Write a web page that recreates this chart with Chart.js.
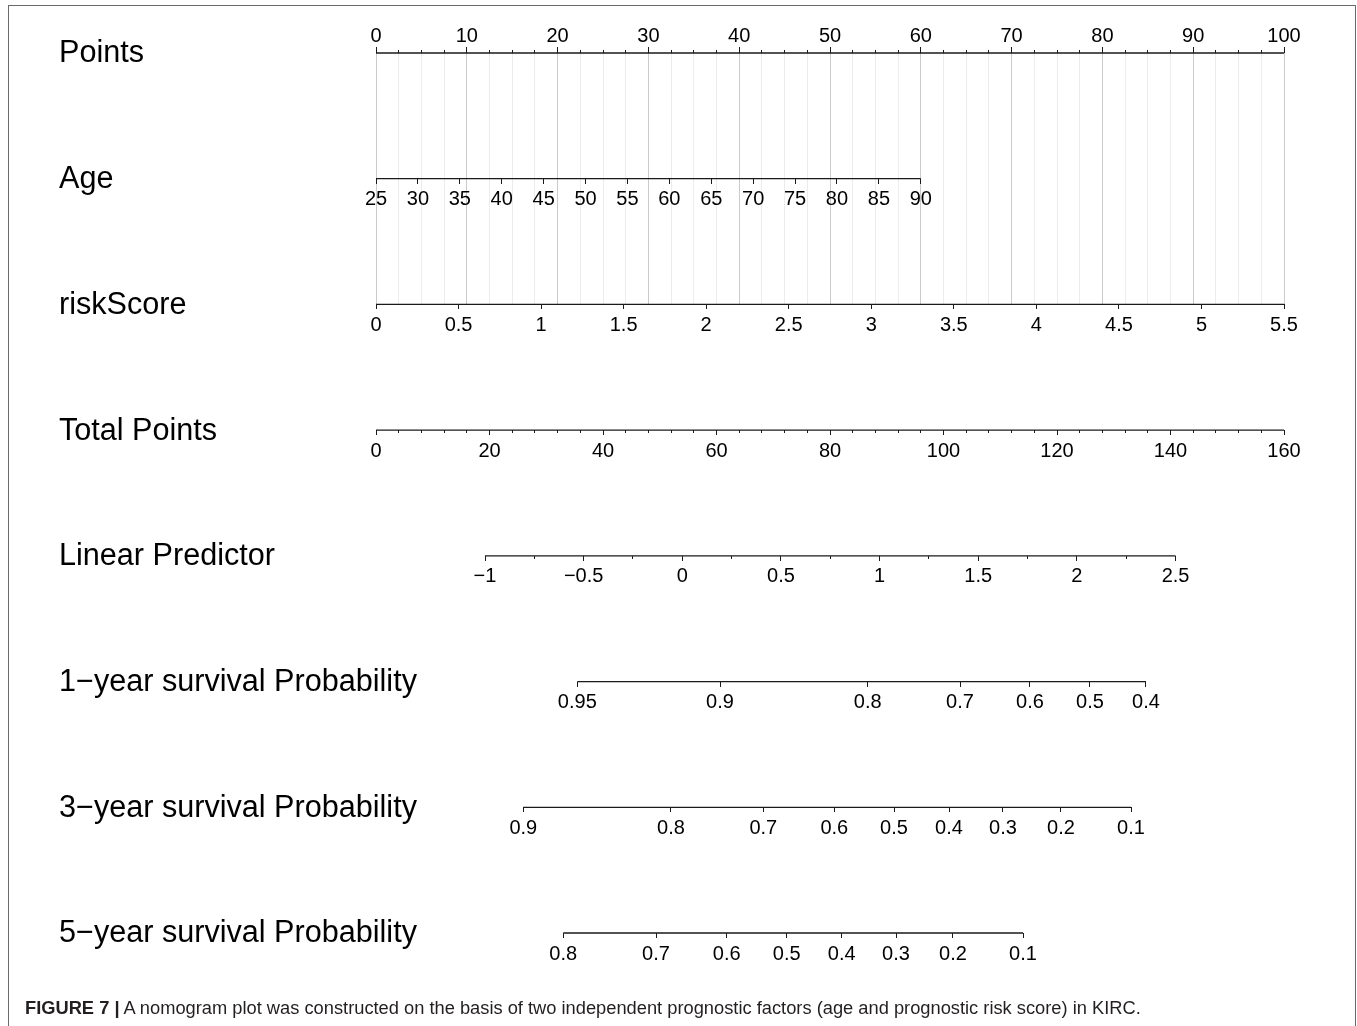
<!DOCTYPE html>
<html>
<head>
<meta charset="utf-8">
<script src="https://cdn.jsdelivr.net/npm/chart.js@4.4.1/dist/chart.umd.min.js"></script>
<style>
  html, body { margin: 0; padding: 0; background: #fff; }
  #wrap { position: relative; width: 1357px; height: 1026px; overflow: hidden; }
  canvas { position: absolute; left: 0; top: 0; }
  #frame { position: absolute; left: 8px; top: 5px; width: 1348px; height: 1040px;
           border: 1px solid #6a6a6a; border-bottom: none; box-sizing: border-box; pointer-events: none; }
  #caption { position: absolute; left: 25px; top: 997px; white-space: nowrap;
             font: 18.3px "Liberation Sans", Arial, sans-serif; color: #231f20; }
  #caption b { font-weight: bold; }
</style>
</head>
<body>
<div id="wrap">
  <canvas id="nomo" width="1357" height="1026"></canvas>
  <div id="frame"></div>
  <div id="caption"><b>FIGURE 7 |</b> A nomogram plot was constructed on the basis of two independent prognostic factors (age and prognostic risk score) in KIRC.</div>
</div>
<script>
// ---- nomogram rows ----
const rowTitles = ['Points', 'Age', 'riskScore', 'Total Points', 'Linear Predictor',
  '1\u2212year survival Probability', '3\u2212year survival Probability', '5\u2212year survival Probability'];

// Points scale (0-100)
const pointsTicks = [0, 10, 20, 30, 40, 50, 60, 70, 80, 90, 100];

// Age: 25 years -> 0 points, 90 years -> 60 points
const ageTicks = [25, 30, 35, 40, 45, 50, 55, 60, 65, 70, 75, 80, 85, 90];
const agePointsAtMax = 60;

// riskScore: 0 -> 0 points, 5.5 -> 100 points
const riskTicks = [0, 0.5, 1, 1.5, 2, 2.5, 3, 3.5, 4, 4.5, 5, 5.5];

// Total points
const totalTicks = [0, 20, 40, 60, 80, 100, 120, 140, 160];

// Linear predictor and its value at 0 and 160 total points
const lpTicks = [-1, -0.5, 0, 0.5, 1, 1.5, 2, 2.5];
const lpAtTotalMin = -1.5525;
const lpAtTotalMax = 3.0497;

// Survival probabilities and the total points where each one falls
const surv1Labels = ['0.95', '0.9', '0.8', '0.7', '0.6', '0.5', '0.4'];
const surv1Total  = [35.47, 60.62, 86.64, 102.91, 115.24, 125.81, 135.68];
const surv3Labels = ['0.9', '0.8', '0.7', '0.6', '0.5', '0.4', '0.3', '0.2', '0.1'];
const surv3Total  = [25.96, 51.98, 68.25, 80.76, 91.28, 100.97, 110.48, 120.70, 133.04];
const surv5Labels = ['0.8', '0.7', '0.6', '0.5', '0.4', '0.3', '0.2', '0.1'];
const surv5Total  = [33.00, 49.34, 61.80, 72.37, 82.06, 91.63, 101.67, 114.01];

// ---- helpers ----
const INK = '#1a1a1a';
const FONT = '"Liberation Sans", Arial, Helvetica, sans-serif';
const fmt = v => String(v).replace('-', '\u2212');
function steps(a, b, step) {
  const out = [];
  const n = Math.round((b - a) / step);
  for (let i = 0; i <= n; i++) out.push(+(a + i * step).toFixed(6));
  return out;
}

// One horizontal axis sitting on a given nomogram row
function rowAxis(row, min, max, values, o) {
  return {
    type: 'linear', axis: 'x', display: true, bounds: 'data',
    min, max, position: { y: row },
    afterBuildTicks: s => { s.ticks = values.map(v => ({ value: v })); },
    border: { display: false },
    grid: {
      drawOnChartArea: !!o.gridColor, color: o.gridColor || 'rgba(0,0,0,0)', lineWidth: 1,
      drawTicks: true, tickLength: o.tl, tickColor: INK, tickWidth: 1
    },
    ticks: {
      display: !!o.labels, autoSkip: false, maxRotation: 0, minRotation: 0,
      padding: o.pad || 0, color: '#000', font: { family: FONT, size: 20 },
      callback: (v, i) => (o.labels ? o.labels[i] : '')
    }
  };
}

function rowLine(row, axisId, from, to) {
  return {
    xAxisID: axisId, yAxisID: 'y',
    data: [{ x: from, y: row }, { x: to, y: row }],
    borderColor: INK, borderWidth: 1.3, pointRadius: 0, fill: false, tension: 0, clip: false
  };
}

const ageAtMaxPoints = ageTicks[0] + (ageTicks[ageTicks.length - 1] - ageTicks[0]) * 100 / agePointsAtMax;
const riskMax = riskTicks[riskTicks.length - 1];
const totalMax = totalTicks[totalTicks.length - 1];
const LABEL_PAD = 4;

const scales = {
  y: { type: 'linear', display: false, min: 0, max: 2, reverse: true },

  pointsMinor: rowAxis(0, 0, 100, steps(0, 100, 2.5), { tl: -3, gridColor: '#ececec' }),
  pointsMajor: rowAxis(0, 0, 100, pointsTicks,
    { tl: -6, gridColor: '#cbcbcb', labels: pointsTicks.map(fmt), pad: -22.5 }),

  age: rowAxis(1, ageTicks[0], ageAtMaxPoints, ageTicks, { tl: 5, labels: ageTicks.map(fmt), pad: LABEL_PAD }),
  risk: rowAxis(2, 0, riskMax, riskTicks, { tl: 5, labels: riskTicks.map(fmt), pad: LABEL_PAD }),

  totalMinor: rowAxis(3, 0, totalMax, steps(0, totalMax, 4), { tl: 3 }),
  totalMajor: rowAxis(3, 0, totalMax, totalTicks, { tl: 5, labels: totalTicks.map(fmt), pad: LABEL_PAD }),

  lpMinor: rowAxis(4, lpAtTotalMin, lpAtTotalMax, steps(lpTicks[0], lpTicks[lpTicks.length - 1], 0.25), { tl: 3 }),
  lpMajor: rowAxis(4, lpAtTotalMin, lpAtTotalMax, lpTicks, { tl: 5, labels: lpTicks.map(fmt), pad: LABEL_PAD }),

  surv1: rowAxis(5, 0, totalMax, surv1Total, { tl: 5, labels: surv1Labels, pad: LABEL_PAD }),
  surv3: rowAxis(6, 0, totalMax, surv3Total, { tl: 5, labels: surv3Labels, pad: LABEL_PAD }),
  surv5: rowAxis(7, 0, totalMax, surv5Total, { tl: 5, labels: surv5Labels, pad: LABEL_PAD })
};

const datasets = [
  rowLine(0, 'pointsMajor', pointsTicks[0], pointsTicks[pointsTicks.length - 1]),
  rowLine(1, 'age', ageTicks[0], ageTicks[ageTicks.length - 1]),
  rowLine(2, 'risk', riskTicks[0], riskMax),
  rowLine(3, 'totalMajor', totalTicks[0], totalMax),
  rowLine(4, 'lpMajor', lpTicks[0], lpTicks[lpTicks.length - 1]),
  rowLine(5, 'surv1', surv1Total[0], surv1Total[surv1Total.length - 1]),
  rowLine(6, 'surv3', surv3Total[0], surv3Total[surv3Total.length - 1]),
  rowLine(7, 'surv5', surv5Total[0], surv5Total[surv5Total.length - 1])
];

// Row names on the left, placed on the same rows as the axes
const rowTitlePlugin = {
  id: 'rowTitles',
  afterDraw(chart) {
    const { ctx } = chart;
    const y = chart.scales.y;
    ctx.save();
    ctx.font = '30.6px ' + FONT;
    ctx.fillStyle = '#000';
    ctx.textAlign = 'left';
    ctx.textBaseline = 'middle';
    rowTitles.forEach((t, i) => ctx.fillText(t, 59, y.getPixelForValue(i) + 1));
    ctx.restore();
  }
};

const CANVAS_H = 1026;
const ROW_TOP = 53, ROW_STEP = 125.714;

new Chart(document.getElementById('nomo'), {
  type: 'line',
  data: { datasets },
  options: {
    responsive: false,
    maintainAspectRatio: false,
    animation: false,
    events: [],
    layout: { padding: { top: ROW_TOP, left: 376, right: 73, bottom: CANVAS_H - (ROW_TOP + 2 * ROW_STEP) } },
    plugins: { legend: { display: false }, tooltip: { enabled: false }, title: { display: false } },
    scales
  },
  plugins: [rowTitlePlugin]
});
</script>
</body>
</html>
